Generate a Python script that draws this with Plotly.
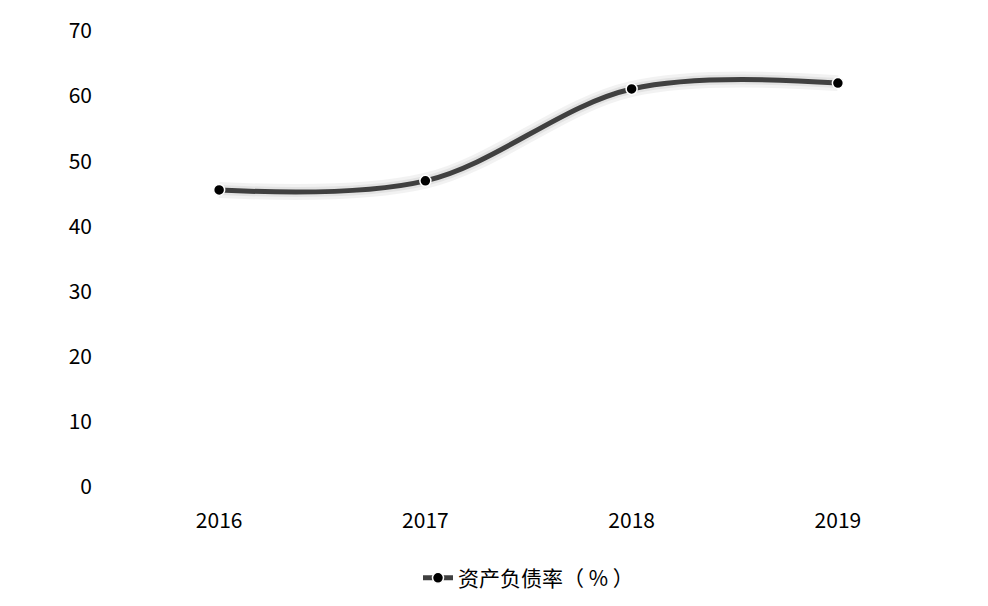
import plotly.graph_objects as go

years = ["2016", "2017", "2018", "2019"]
debt_ratio = [45.6, 47.0, 61.1, 62.0]
y_ticks = [0, 10, 20, 30, 40, 50, 60, 70]

FONT = "Noto Sans CJK SC, Noto Sans, sans-serif"

fig = go.Figure()

# soft shadow behind the line
fig.add_trace(go.Scatter(
    x=years, y=debt_ratio,
    mode="lines",
    line=dict(shape="spline", smoothing=1.0, width=16, color="rgba(0,0,0,0.05)"),
    showlegend=False, hoverinfo="skip",
))
fig.add_trace(go.Scatter(
    x=years, y=debt_ratio,
    mode="lines",
    line=dict(shape="spline", smoothing=1.0, width=10, color="rgba(0,0,0,0.06)"),
    showlegend=False, hoverinfo="skip",
))

fig.add_trace(go.Scatter(
    x=years, y=debt_ratio,
    mode="lines+markers",
    name="资产负债率（ % ）",
    line=dict(shape="spline", smoothing=1.0, width=5, color="#404040"),
    marker=dict(size=11, color="#000000", line=dict(width=1.5, color="#ffffff")),
))

fig.update_layout(
    width=988, height=606,
    margin=dict(l=108, r=55, t=23, b=127, autoexpand=False),
    paper_bgcolor="white",
    plot_bgcolor="white",
    font=dict(family=FONT, size=21, color="#000000"),
    showlegend=True,
    legend=dict(
        orientation="h",
        x=0.5, xanchor="center",
        y=-0.2, yanchor="middle",
        font=dict(size=21),
    ),
)

fig.update_xaxes(
    type="category",
    range=[-0.5, 3.5],
    showgrid=False, showline=False, zeroline=False,
    ticks="", ticklabelstandoff=19,
    tickfont=dict(size=21),
)
fig.update_yaxes(
    range=[0, 70],
    tickvals=y_ticks,
    showgrid=False, showline=False, zeroline=False,
    ticks="", ticklabelstandoff=23,
    tickfont=dict(size=21),
)

fig.write_html("out.html")
